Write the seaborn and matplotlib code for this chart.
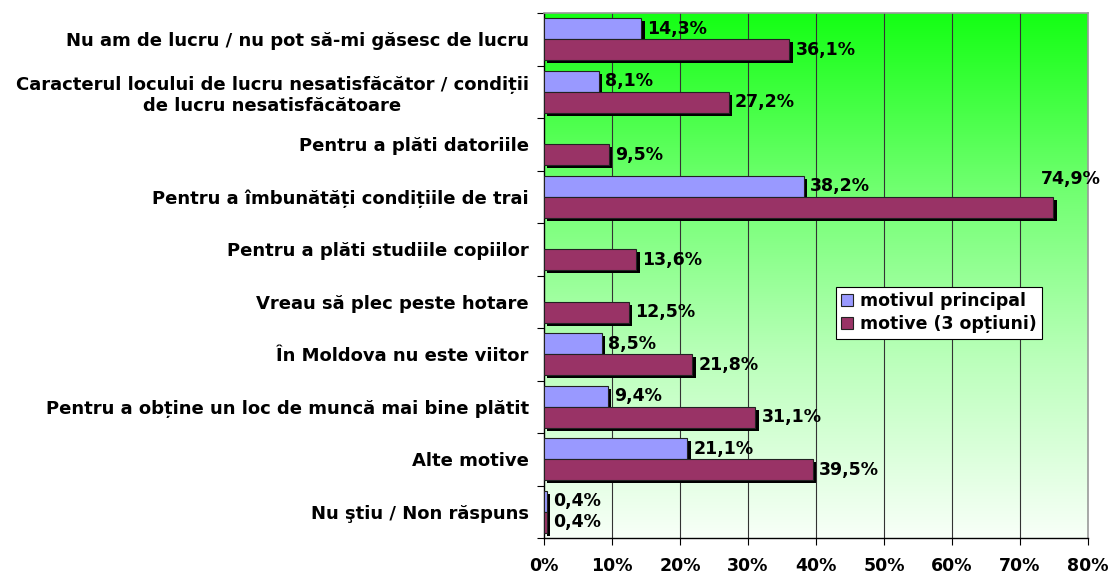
import numpy as np
import pandas as pd
import matplotlib
matplotlib.use('Agg')
import matplotlib.pyplot as plt
import matplotlib.patheffects as pe
from matplotlib.colors import LinearSegmentedColormap
from matplotlib.ticker import FuncFormatter, FixedLocator
import seaborn as sns

# Data
categories = [
    'Nu am de lucru / nu pot să-mi găsesc de lucru',
    'Caracterul locului de lucru nesatisfăcător / condiții\nde lucru nesatisfăcătoare',
    'Pentru a plăti datoriile',
    'Pentru a îmbunătăți condițiile de trai',
    'Pentru a plăti studiile copiilor',
    'Vreau să plec peste hotare',
    'În Moldova nu este viitor',
    'Pentru a obține un loc de muncă mai bine plătit',
    'Alte motive',
    'Nu ştiu / Non răspuns',
]
motivul_principal = [14.3, 8.1, np.nan, 38.2, np.nan, np.nan, 8.5, 9.4, 21.1, 0.4]
motive_3 = [36.1, 27.2, 9.5, 74.9, 13.6, 12.5, 21.8, 31.1, 39.5, 0.4]
series_names = ['motivul principal', 'motive (3 opțiuni)']
colors = ['#9999FF', '#993366']

df = pd.DataFrame({
    'Motiv': categories * 2,
    'Serie': [series_names[0]] * len(categories) + [series_names[1]] * len(categories),
    'Procent': motivul_principal + motive_3,
})

sns.set_style('white')
plt.rcParams['font.family'] = ['DejaVu Sans']
plt.rcParams['font.weight'] = 'bold'
plt.rcParams['text.color'] = 'black'
plt.rcParams['xtick.color'] = 'black'
plt.rcParams['ytick.color'] = 'black'

fig = plt.figure(figsize=(11.11, 5.74), dpi=100)
ax = fig.add_axes([0.4896, 0.0627, 0.4896, 0.9146])

sns.barplot(data=df, y='Motiv', x='Procent', hue='Serie', order=categories,
            hue_order=series_names, palette=colors, orient='h', width=0.8,
            saturation=1, ax=ax, zorder=3, errorbar=None)

ax.set_xlim(0, 80)
ax.set_ylim(len(categories) - 0.5, -0.5)

# gradient background
grad = LinearSegmentedColormap.from_list('g', ['#14FF14', '#70FF70', '#BCFFBC', '#F8FFF8'])
ax.imshow(np.linspace(0, 1, 256).reshape(-1, 1), cmap=grad, aspect='auto',
          extent=[0, 80, len(categories) - 0.5, -0.5], zorder=0)

# bar styling + labels
shadow = [pe.SimplePatchShadow(offset=(2.5, -2), shadow_rgbFace='black', alpha=1.0), pe.Normal()]
for cont in ax.containers:
    for bar in cont:
        w = bar.get_width()
        if np.isnan(w) or w == 0:
            continue
        bar.set_edgecolor('#222222')
        bar.set_linewidth(0.8)
        bar.set_path_effects(shadow)
        txt = f'{w:.1f}'.replace('.', ',') + '%'
        yc = bar.get_y() + bar.get_height() / 2
        if w > 70:
            ax.text(w + 2.6, bar.get_y() - bar.get_height() * 0.85, txt, ha='center', va='center',
                    fontsize=12.5, fontweight='bold', zorder=5, clip_on=False)
        else:
            ax.text(w + 0.9, yc, txt, ha='left', va='center', fontsize=12.5,
                    fontweight='bold', zorder=5)

# grid
for xv in range(10, 80, 10):
    ax.axvline(xv, color='#333333', lw=0.8, zorder=1)

ax.xaxis.set_major_formatter(FuncFormatter(lambda v, p: f'{v:.0f}%'))
ax.set_xticks(range(0, 81, 10))
ax.yaxis.set_minor_locator(FixedLocator(np.arange(-0.5, len(categories), 1)))
ax.tick_params(axis='y', which='major', length=0, pad=11, labelsize=13)
ax.tick_params(axis='y', which='minor', length=5, width=0.8, color='black', direction='out', left=True)
ax.tick_params(axis='x', which='major', length=5, width=0.8, color='black', direction='out',
               bottom=True, labelsize=12.5, pad=9)
for lbl in ax.get_yticklabels():
    lbl.set_fontweight('bold')
    lbl.set_multialignment('center')
    lbl.set_linespacing(1.25)
for lbl in ax.get_xticklabels():
    lbl.set_fontweight('bold')

ax.set_xlabel('')
ax.set_ylabel('')
for s in ['left', 'bottom']:
    ax.spines[s].set_color('black')
    ax.spines[s].set_linewidth(1)
for s in ['top', 'right']:
    ax.spines[s].set_color('#999999')
    ax.spines[s].set_linewidth(1.2)

leg = ax.legend(loc='upper left', bbox_to_anchor=(0.537, 0.478), frameon=True, fancybox=False,
                edgecolor='black', framealpha=1, prop={'size': 12.5, 'weight': 'bold'},
                handlelength=0.7, handleheight=0.7, handletextpad=0.4, borderpad=0.3,
                labelspacing=0.3, borderaxespad=0)
leg.get_frame().set_linewidth(0.8)
for h in leg.legend_handles:
    h.set_edgecolor('#222222')
    h.set_linewidth(0.8)

fig.savefig('out.png', dpi=100, facecolor='white')
